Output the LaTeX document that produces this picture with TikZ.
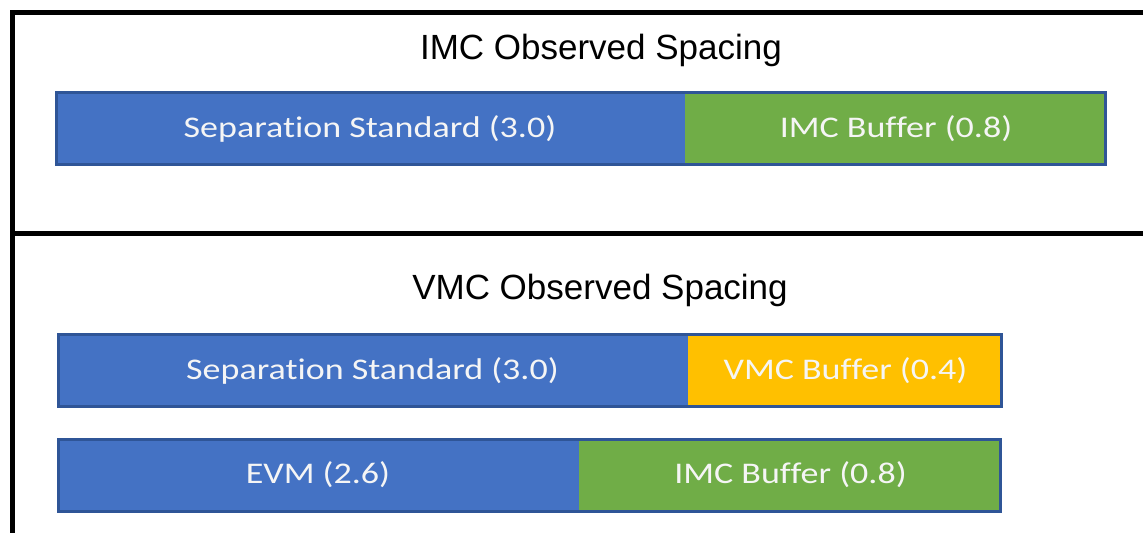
\documentclass[tikz,border=0pt]{standalone}
\usepackage{fontspec}
\newfontfamily\headfont{Liberation Sans}
\newfontfamily\barfont{Carlito}[FakeStretch=1.2,Ligatures=NoCommon]
\usetikzlibrary{positioning}
\definecolor{segblue}{HTML}{4472C4}
\definecolor{seggreen}{HTML}{70AD47}
\definecolor{seggold}{HTML}{FFC000}
\definecolor{segedge}{HTML}{2F5597}
\tikzstyle{segment}=[rectangle,inner sep=0pt,outer sep=0pt,minimum height=75pt,anchor=north west,text=white!96!black,font=\barfont\fontsize{30}{35}\selectfont]
\tikzstyle{heading}=[anchor=base,inner sep=0pt,font=\headfont\fontsize{35}{40}\selectfont]
\tikzstyle{frame}=[draw,line width=5pt]
\tikzstyle{barline}=[draw=segedge,line width=3pt]

\begin{document}
\begin{tikzpicture}[x=1pt,y=-1pt]
    \useasboundingbox (0,0) rectangle (1143,533);
    % Frame of the two panels
    \path[frame] (1143,12.5) -- (12.5,12.5) -- (12.5,533);
    \path[frame] (12.5,233) -- (1143,233);

    % Panel titles
    \node[heading] (imctitle) at (601,59) {IMC Observed Spacing};
    \node[heading] (vmctitle) at (600,299) {VMC Observed Spacing};

    % IMC bar
    \node[segment,fill=segblue,minimum width=630pt] (sepimc) at (55,91) {Separation Standard (3.0)};
    \node[segment,fill=seggreen,minimum width=422pt,right=0pt of sepimc] (bufimc) {IMC Buffer (0.8)};

    % VMC bars
    \node[segment,fill=segblue,minimum width=631pt] (sepvmc) at (57,333) {Separation Standard (3.0)};
    \node[segment,fill=seggold,minimum width=315pt,right=0pt of sepvmc] (bufvmc) {VMC Buffer (0.4)};
    \node[segment,fill=segblue,minimum width=522pt] (evm) at (57,437.5) {EVM (2.6)};
    \node[segment,fill=seggreen,minimum width=423pt,right=0pt of evm] (bufevm) {IMC Buffer (0.8)};

    % Outline round each bar
    \foreach \first/\last in {sepimc/bufimc, sepvmc/bufvmc, evm/bufevm}
        \path[barline] ([shift={(1.5pt,-1.5pt)}]\first.north west) rectangle ([shift={(-1.5pt,1.5pt)}]\last.south east);
\end{tikzpicture}
\end{document}
